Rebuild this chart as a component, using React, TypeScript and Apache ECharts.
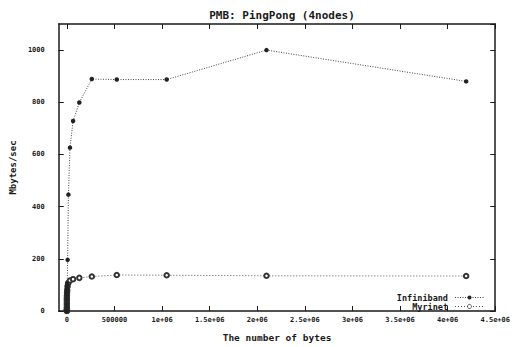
import React, { useEffect, useRef } from "react";
import * as echarts from "echarts";

const title = "PMB: PingPong (4nodes)";
const xName = "The number of bytes";
const yName = "Mbytes/sec";
const seriesNames = ["Infiniband", "Myrinet"];

const bytes = [
  0, 1, 2, 4, 8, 16, 32, 64, 128, 256, 512, 1024, 2048, 4096, 8192, 16384,
  32768, 65536, 131072, 262144, 524288, 1048576, 2097152, 4194304,
];
const infiniband = [
  0, 2, 4, 8, 15, 28, 45, 60, 70, 78, 86, 93, 100, 106, 196, 446, 626, 728,
  799, 889, 887, 887, 1000, 880,
];
const myrinet = [
  0, 1, 2, 4, 8, 14, 22, 30, 38, 45, 52, 60, 70, 80, 95, 108, 117, 122, 127,
  132, 138, 137, 135, 134,
];

const xTicks = [0, 500000, 1000000, 1500000, 2000000, 2500000, 3000000, 3500000, 4000000, 4500000];
const xTickLabels = ["0", "500000", "1e+06", "1.5e+06", "2e+06", "2.5e+06", "3e+06", "3.5e+06", "4e+06", "4.5e+06"];

const X_MIN = -85000;
const X_MAX = 4500000;
const Y_MIN = 0;
const Y_MAX = 1100;

const FONT = "DejaVu Sans Mono";
const INK = "#1a1a1a";

export default function App() {
  const ref = useRef<HTMLDivElement>(null);
  useEffect(() => {
    if (!ref.current) return;
    const chart = echarts.init(ref.current, undefined, { renderer: "svg" });
    const pairs = (ys: number[]) => bytes.map((b, i) => [b, ys[i]]);
    const axisLine = { show: true, onZero: false, lineStyle: { color: INK, width: 1.5 } };
    const tick = { show: true, inside: true, length: 5, lineStyle: { color: INK, width: 1 } };
    chart.setOption({
      animation: false,
      backgroundColor: "#fff",
      title: {
        text: title,
        left: 277,
        textAlign: "center",
        top: 5,
        textStyle: { fontFamily: FONT, fontSize: 11, fontWeight: "bold", color: INK },
      },
      grid: { left: 57, right: 16, top: 24, bottom: 32 },
      xAxis: [
        {
          type: "value",
          min: X_MIN,
          max: X_MAX,
          axisLine,
          axisTick: { ...tick, customValues: xTicks },
          splitLine: { show: false },
          axisLabel: {
            customValues: xTicks,
            formatter: (v: number) => {
              const i = xTicks.indexOf(v);
              return i >= 0 ? xTickLabels[i] : "";
            },
            fontFamily: FONT,
            fontSize: 7,
            fontWeight: "bold",
            color: INK,
            margin: 5,
          },
          name: xName,
          nameLocation: "middle",
          nameGap: 21,
          nameTextStyle: { fontFamily: FONT, fontSize: 9.5, fontWeight: "bold", color: INK },
        },
        {
          type: "value",
          position: "top",
          min: X_MIN,
          max: X_MAX,
          axisLine,
          axisTick: { ...tick, customValues: xTicks },
          axisLabel: { show: false },
          splitLine: { show: false },
        },
      ],
      yAxis: [
        {
          type: "value",
          min: Y_MIN,
          max: Y_MAX,
          interval: 200,
          axisLine,
          axisTick: tick,
          splitLine: { show: false },
          axisLabel: {
            showMaxLabel: false,
            formatter: (v: number) => String(v),
            fontFamily: FONT,
            fontSize: 7,
            fontWeight: "bold",
            color: INK,
            margin: 14,
          },
          name: yName,
          nameLocation: "middle",
          nameGap: 35,
          nameTextStyle: { fontFamily: FONT, fontSize: 9, fontWeight: "bold", color: INK },
        },
        {
          type: "value",
          position: "right",
          min: Y_MIN,
          max: Y_MAX,
          interval: 200,
          axisLine,
          axisTick: tick,
          axisLabel: { show: false },
          splitLine: { show: false },
        },
      ],
      series: [
        {
          name: seriesNames[0],
          type: "line",
          xAxisIndex: 0,
          yAxisIndex: 0,
          z: 3,
          data: pairs(infiniband),
          symbol: "circle",
          symbolSize: 4.5,
          itemStyle: { color: "#222" },
          lineStyle: { color: "#444", width: 1, type: [1, 1.5] },
        },
        {
          name: seriesNames[1],
          type: "line",
          xAxisIndex: 0,
          yAxisIndex: 0,
          z: 2,
          data: pairs(myrinet),
          symbol: "emptyCircle",
          symbolSize: 4.5,
          itemStyle: { color: "#333", borderWidth: 0.8 },
          lineStyle: { color: "#555", width: 1, type: [1, 2] },
        },
      ],
      graphic: [
        {
          type: "text",
          x: 448,
          y: 297.5,
          style: { text: seriesNames[0], align: "right", verticalAlign: "middle", font: `bold 8.5px ${FONT}`, fill: INK },
        },
        {
          type: "text",
          x: 448,
          y: 306.5,
          style: { text: seriesNames[1], align: "right", verticalAlign: "middle", font: `bold 8.5px ${FONT}`, fill: INK },
        },
        {
          type: "line",
          shape: { x1: 455, y1: 297.5, x2: 484, y2: 297.5 },
          style: { stroke: "#444", lineWidth: 1, lineDash: [1, 1.5] },
        },
        { type: "circle", shape: { cx: 469.5, cy: 297.5, r: 2 }, style: { fill: "#222" } },
        {
          type: "line",
          shape: { x1: 455, y1: 306.5, x2: 484, y2: 306.5 },
          style: { stroke: "#555", lineWidth: 1, lineDash: [1, 2] },
        },
        { type: "circle", shape: { cx: 469.5, cy: 306.5, r: 2 }, style: { fill: "#fff", stroke: "#333", lineWidth: 0.8 } },
      ],
    });
    return () => chart.dispose();
  }, []);
  return <div ref={ref} style={{ width: 513, height: 347, position: "absolute", left: 0, top: 0 }} />;
}
